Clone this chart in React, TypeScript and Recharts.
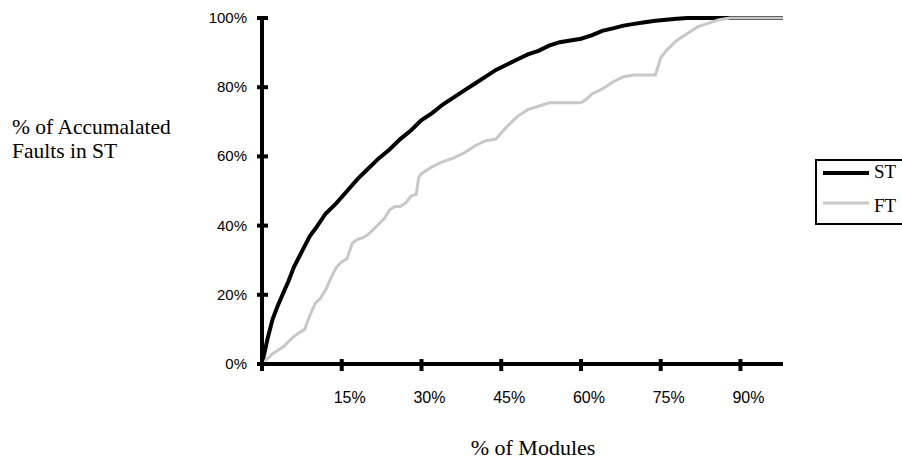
import { Legend, Line, LineChart, XAxis, YAxis } from "recharts";

// % of modules (x) and % of accumulated faults (y)
const stModules = [0, 1, 2, 3, 4, 5, 6, 7, 8, 9, 10, 12, 14, 16, 18, 20, 22, 24, 26, 28, 30, 32, 34, 36, 38, 40, 42, 44, 46, 48, 50, 52, 54, 56, 58, 60, 62, 64, 66, 68, 70, 72, 74, 76, 78, 80, 85, 90, 95, 98];
const stFaults = [0, 7, 13, 17, 20.5, 24, 28, 31, 34, 37, 39, 43.5, 46.5, 50, 53.5, 56.5, 59.5, 62, 65, 67.5, 70.5, 72.5, 75, 77, 79, 81, 83, 85, 86.5, 88, 89.5, 90.5, 92, 93, 93.5, 94, 95, 96.3, 97, 97.8, 98.3, 98.8, 99.2, 99.5, 99.8, 100, 100, 100, 100, 100];

const ftModules = [0, 1, 2, 3, 4, 5, 6, 7, 8, 9, 10, 11, 12, 13, 14, 15, 16, 17, 18, 19, 20, 21, 22, 23, 24, 25, 26, 27, 28, 29, 29.5, 30, 32, 34, 36, 38, 40, 42, 44, 46, 48, 50, 52, 54, 56, 58, 60, 61, 62, 64, 66, 68, 70, 72, 74, 74.5, 75, 76, 78, 80, 82, 84, 86, 88, 90, 95, 98];
const ftFaults = [0, 1.5, 3, 4, 5, 6.5, 8, 9, 10, 14, 17.5, 19, 21.5, 25, 28, 29.5, 30.5, 35, 36, 36.5, 37.5, 39, 40.5, 42, 44.5, 45.5, 45.5, 46.5, 48.5, 49, 54, 55, 57, 58.5, 59.5, 61, 63, 64.5, 65, 68.5, 71.5, 73.5, 74.5, 75.5, 75.5, 75.5, 75.5, 76.5, 78, 79.5, 81.5, 83, 83.5, 83.5, 83.5, 86, 88.5, 90.5, 93.5, 95.5, 97.5, 98.5, 99.5, 100, 100, 100, 100];

const xTicks = [0, 15, 30, 45, 60, 75, 90];
const yTicks = [0, 20, 40, 60, 80, 100];

const stData = stModules.map((m, i) => ({ m, v: stFaults[i] }));
const ftData = ftModules.map((m, i) => ({ m, v: ftFaults[i] }));

const sans = "'Liberation Sans', Arial, sans-serif";
const serif = "'Liberation Serif', 'Times New Roman', serif";

function XTick(props: any) {
  const { x, y, payload } = props;
  return (
    <g>
      <line x1={x} x2={x} y1={y - 5} y2={y + 7} stroke="#000" strokeWidth={4} />
      {payload.value !== 0 && (
        <text x={x + 8} y={y + 39} textAnchor="middle" fontSize={16} fontFamily={sans} fill="#000">
          {payload.value}%
        </text>
      )}
    </g>
  );
}

function YTick(props: any) {
  const { x, y, payload } = props;
  return (
    <g>
      <line x1={x - 5} x2={x + 6} y1={y} y2={y} stroke="#000" strokeWidth={4} />
      <text x={x - 15} y={y + 5} textAnchor="end" fontSize={15} fontFamily={sans} fill="#000">
        {payload.value}%
      </text>
    </g>
  );
}

function LegendBox() {
  return (
    <div
      style={{
        border: "2px solid #000",
        width: 110,
        height: 66,
        boxSizing: "border-box",
        position: "relative",
        background: "#fff",
      }}
    >
      <svg width={110} height={66} style={{ position: "absolute", left: 0, top: 0 }}>
        <line x1={6} x2={52} y1={12} y2={12} stroke="#000" strokeWidth={4} />
        <line x1={6} x2={52} y1={42} y2={42} stroke="#c8c8c8" strokeWidth={3} />
        <text x={57} y={17} fontFamily={serif} fontSize={19} fill="#000">ST</text>
        <text x={57} y={51} fontFamily={serif} fontSize={19} fill="#000">FT</text>
      </svg>
    </div>
  );
}

export default function App() {
  return (
    <div style={{ position: "absolute", left: 0, top: 0, width: 902, height: 460, background: "#fff", overflow: "hidden" }}>
      <LineChart width={902} height={460} margin={{ top: 18, right: 119, bottom: 66, left: 202 }}>
        <XAxis
          dataKey="m"
          type="number"
          domain={[0, 98]}
          ticks={xTicks}
          allowDataOverflow
          axisLine={{ stroke: "#000", strokeWidth: 4 }}
          tickLine={false}
          tickSize={0}
          tickMargin={0}
          tick={<XTick />}
          height={30}
        />
        <YAxis
          dataKey="v"
          type="number"
          domain={[0, 100]}
          ticks={yTicks}
          axisLine={{ stroke: "#000", strokeWidth: 4 }}
          tickLine={false}
          tickSize={0}
          tickMargin={0}
          tick={<YTick />}
          width={60}
        />
        <Legend
          layout="horizontal"
          verticalAlign="middle"
          align="center"
          content={() => <LegendBox />}
          wrapperStyle={{ left: 815, top: 159, width: 110, height: 66 }}
        />
        <Line data={stData} dataKey="v" type="linear" stroke="#000" strokeWidth={4} dot={false} isAnimationActive={false} />
        <Line data={ftData} dataKey="v" type="linear" stroke="#c8c8c8" strokeWidth={3} dot={false} isAnimationActive={false} />
      </LineChart>
      <div style={{ position: "absolute", left: 12, top: 115, fontFamily: serif, fontSize: 21.5, lineHeight: "24px", color: "#000" }}>
        % of Accumalated
        <br />
        Faults in ST
      </div>
      <div style={{ position: "absolute", left: 433, top: 436, width: 200, textAlign: "center", fontFamily: serif, fontSize: 22, lineHeight: "24px", color: "#000" }}>
        % of Modules
      </div>
    </div>
  );
}
